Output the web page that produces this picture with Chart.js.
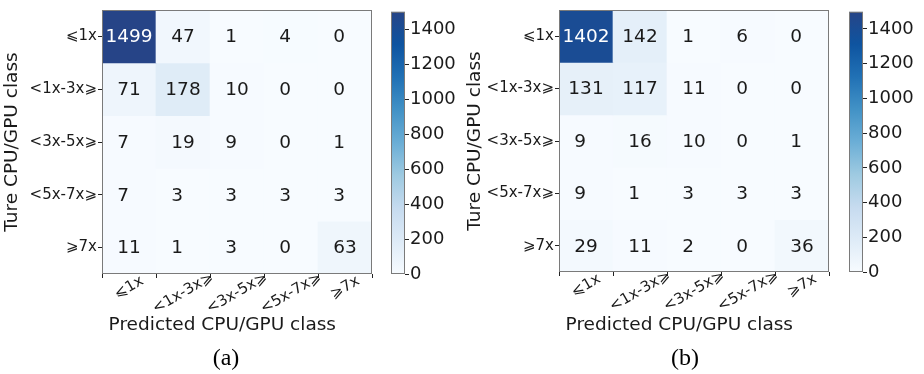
<!DOCTYPE html>
<html>
<head>
<meta charset="utf-8">
<script src="https://cdn.jsdelivr.net/npm/chart.js@4.4.0/dist/chart.umd.min.js"></script>
<style>
  body { margin: 0; background: #fff; width: 924px; height: 374px; position: relative; overflow: hidden; }
  canvas { position: absolute; top: 0; }
  .cap { position: absolute; top: 345px; font-family: "Liberation Serif", serif; font-size: 24px; line-height: 1; color: #000; transform: translateX(-50%); }
</style>
</head>
<body>
<canvas id="heatA" width="380" height="374" style="left:0"></canvas>
<canvas id="barA" width="80" height="374" style="left:380px"></canvas>
<canvas id="heatB" width="375" height="374" style="left:460px"></canvas>
<canvas id="barB" width="89" height="374" style="left:835px"></canvas>
<div class="cap" style="left:226px">(a)</div>
<div class="cap" style="left:685px">(b)</div>

<script>
// classes, same order on both axes
const classLabels = ["⩽1x", "<1x-3x⩾", "<3x-5x⩾", "<5x-7x⩾", "⩾7x"];

// rows = true class, columns = predicted class
const matrixA = [
  [1499, 47, 1, 4, 0],
  [71, 178, 10, 0, 0],
  [7, 19, 9, 0, 1],
  [7, 3, 3, 3, 3],
  [11, 1, 3, 0, 63]
];
const matrixB = [
  [1402, 142, 1, 6, 0],
  [131, 117, 11, 0, 0],
  [9, 16, 10, 0, 1],
  [9, 1, 3, 3, 3],
  [29, 11, 2, 0, 36]
];

const colorMax = 1499;
const colorTicks = [0, 200, 400, 600, 800, 1000, 1200, 1400];

Chart.defaults.font.family = "'DejaVu Sans', sans-serif";
Chart.defaults.color = "#1a1a1a";

// Blues colormap
const bluesStops = [
  [247, 251, 255], [222, 235, 247], [198, 219, 239], [158, 202, 225],
  [107, 174, 214], [66, 146, 198], [33, 113, 181], [14, 84, 160], [38, 68, 135]
];

function blues(t) {
  t = Math.max(0, Math.min(1, t));
  const p = t * (bluesStops.length - 1);
  const i = Math.min(Math.floor(p), bluesStops.length - 2);
  const f = p - i;
  const a = bluesStops[i], b = bluesStops[i + 1];
  const c = a.map((v, k) => Math.round(v + (b[k] - v) * f));
  return `rgb(${c[0]},${c[1]},${c[2]})`;
}

// grey box round the plot area
const frame = {
  id: "frame",
  afterDraw(chart) {
    const { ctx, chartArea: a } = chart;
    ctx.save();
    ctx.strokeStyle = "#7a7a7a";
    ctx.lineWidth = 1;
    ctx.strokeRect(a.left + 0.5, a.top + 0.5, a.right - a.left - 1, a.bottom - a.top - 1);
    ctx.restore();
  }
};

// rotated x labels, centred under their tick (chart.js only right-aligns rotated ones)
const xLabels = {
  id: "xLabels",
  afterDraw(chart) {
    const { ctx, chartArea: a } = chart;
    const xs = chart.scales.x;
    ctx.save();
    ctx.font = "15px 'DejaVu Sans'";
    ctx.fillStyle = "#1a1a1a";
    ctx.textAlign = "center";
    ctx.textBaseline = "middle";
    xs.ticks.forEach((t, i) => {
      const txt = classLabels[i];
      const w = ctx.measureText(txt).width;
      ctx.save();
      ctx.translate(xs.getPixelForTick(i), a.bottom + 9 + w * 0.15);
      ctx.rotate(-Math.PI / 6);
      ctx.fillText(txt, 0, 0);
      ctx.restore();
    });
    ctx.restore();
  }
};

// numbers in the cells
function cellText(matrix) {
  return {
    id: "cellText",
    afterDatasetsDraw(chart) {
      const ctx = chart.ctx;
      ctx.save();
      ctx.font = "18.5px 'DejaVu Sans'";
      ctx.textBaseline = "middle";
      ctx.textAlign = "left";
      const minW = ctx.measureText("00").width;
      matrix.forEach((row, r) => {
        const meta = chart.getDatasetMeta(r);
        meta.data.forEach((bar, c) => {
          const v = row[c];
          const s = String(v);
          const w = Math.max(ctx.measureText(s).width, minW);
          ctx.fillStyle = v > colorMax / 2 ? "#ffffff" : "#1a1a1a";
          ctx.fillText(s, bar.x - w / 2, (bar.y + bar.base) / 2 + 1);
        });
      });
      ctx.restore();
    }
  };
}

function heatChart(id, matrix, pad, yWidth, xHeight, yTitlePad) {
  const datasets = matrix.map((row, r) => ({
    label: classLabels[r],
    data: row.map(() => [r, r + 1]),
    backgroundColor: row.map(v => blues(v / colorMax)),
    borderWidth: 0,
    barPercentage: 1,
    categoryPercentage: 1,
    grouped: false
  }));

  return new Chart(document.getElementById(id), {
    type: "bar",
    data: { labels: classLabels, datasets },
    options: {
      responsive: false,
      animation: false,
      layout: { padding: pad },
      plugins: { legend: { display: false }, tooltip: { enabled: false } },
      scales: {
        x: {
          grid: { drawOnChartArea: false, tickLength: 4, color: "#222" },
          border: { display: false },
          ticks: { display: false },
          title: {
            display: true,
            text: "Predicted CPU/GPU class     ",
            font: { size: 18.5 },
            padding: { top: 0, bottom: 38 }
          },
          afterFit: s => { s.height = xHeight; }
        },
        y: {
          type: "linear",
          min: 0,
          max: 5,
          reverse: true,
          afterBuildTicks: s => { s.ticks = classLabels.map((_, i) => ({ value: i + 0.5 })); },
          grid: { drawOnChartArea: false, tickLength: 4, color: "#222" },
          border: { display: false },
          ticks: { callback: v => classLabels[Math.floor(v)], autoSkip: false, font: { size: 15 }, padding: 1 },
          title: {
            display: true,
            text: "Ture CPU/GPU class",
            font: { size: 18.5 },
            padding: { top: yTitlePad, bottom: 0 }
          },
          afterFit: s => { s.width = yWidth; }
        }
      }
    },
    plugins: [cellText(matrix), frame, xLabels]
  });
}

function barGradient(chart) {
  const a = chart.chartArea;
  if (!a) return blues(0);
  const g = chart.ctx.createLinearGradient(0, a.bottom, 0, a.top);
  bluesStops.forEach((c, i) => g.addColorStop(i / (bluesStops.length - 1), `rgb(${c[0]},${c[1]},${c[2]})`));
  return g;
}

function colorBar(id, pad, axisWidth) {
  return new Chart(document.getElementById(id), {
    type: "bar",
    data: {
      labels: [""],
      datasets: [{
        data: [[0, colorMax]],
        backgroundColor: ctx => barGradient(ctx.chart),
        borderWidth: 0,
        barPercentage: 1,
        categoryPercentage: 1
      }]
    },
    options: {
      responsive: false,
      animation: false,
      layout: { padding: pad },
      plugins: { legend: { display: false }, tooltip: { enabled: false } },
      scales: {
        x: { display: false },
        y: {
          position: "right",
          min: 0,
          max: colorMax,
          afterBuildTicks: s => { s.ticks = colorTicks.map(v => ({ value: v })); },
          grid: { drawOnChartArea: false, tickLength: 4, color: "#222" },
          border: { display: false },
          ticks: { font: { size: 18 }, padding: 1, callback: v => String(v) },
          afterFit: s => { s.width = axisWidth; }
        }
      }
    },
    plugins: [frame]
  });
}

heatChart("heatA", matrixA, { top: 5, right: 8, left: 0, bottom: 0 }, 102, 100, 1);
colorBar("barA", { top: 5, right: 0, left: 11, bottom: 100 }, 55);
heatChart("heatB", matrixB, { top: 3, right: 6, left: 0, bottom: 0 }, 99, 102, 4);
colorBar("barB", { top: 3, right: 0, left: 14, bottom: 102 }, 61);
</script>
</body>
</html>
